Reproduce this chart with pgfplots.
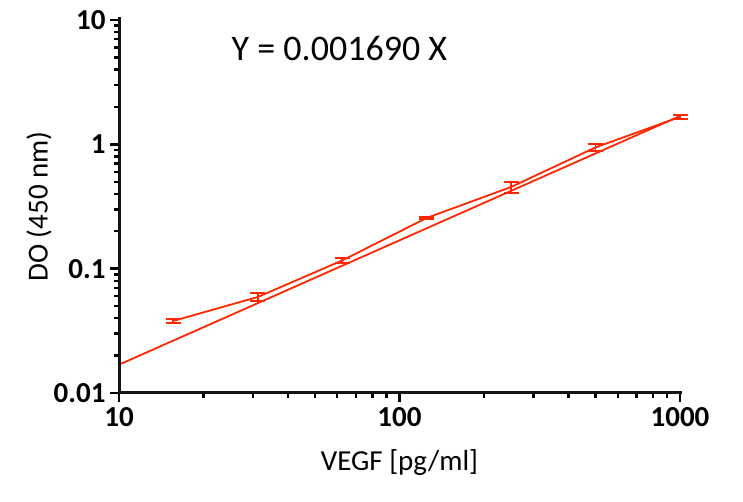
\documentclass[border=0pt]{standalone}
\usepackage{pgfplots}
\pgfplotsset{compat=1.18}
\usepackage{fontspec}
\setmainfont{Carlito}
\definecolor{curvered}{RGB}{255,38,0}
\definecolor{axisblack}{RGB}{20,20,20}
\pgfplotstableread{
x y err
15.625 0.0380 0.0014
31.25 0.0592 0.0045
62.5 0.1164 0.0055
125 0.2558 0.005
250 0.454 0.045
500 0.945 0.065
1000 1.661 0.06
}\meandata
\begin{document}
\begin{tikzpicture}
\begin{axis}[
  at={(0,0)}, anchor=south west,
  scale only axis, width=561pt, height=373pt,
  xmode=log, ymode=log,
  xmin=10, xmax=1000, ymin=0.01, ymax=10,
  axis x line*=bottom, axis y line*=left,
  x axis line style={axisblack, line width=2.8pt},
  y axis line style={axisblack, line width=2.8pt},
  xtick={10,100,1000}, xticklabels={10,100,1000},
  ytick={0.01,0.1,1,10}, yticklabels={0.01,0.1,1,10},
  minor xtick={20,30,40,50,60,70,80,90,200,300,400,500,600,700,800,900},
  minor ytick={0.02,0.03,0.04,0.05,0.06,0.07,0.08,0.09,0.2,0.3,0.4,0.5,0.6,0.7,0.8,0.9,2,3,4,5,6,7,8,9},
  tick align=outside,
  major tick length=9pt, minor tick length=5.5pt,
  tick style={black, line width=2.4pt},
  minor tick style={black, line width=2.4pt},
  tick label style={font=\fontsize{29}{34}\selectfont\bfseries},
  xticklabel style={yshift=-2pt},
  yticklabel style={xshift=-1pt},
  xlabel={VEGF [pg/ml]},
  ylabel={DO (450 nm)},
  label style={font=\fontsize{29}{34}\selectfont},
  xlabel style={at={(axis description cs:0.5,0)}, anchor=base, yshift=-77pt},
  ylabel style={at={(axis description cs:0,0.5)}, anchor=center, rotate=0, yshift=80pt},
  clip=false,
]
\addplot[curvered, line width=1.8pt, no marks,
  error bars/.cd, y dir=both, y explicit,
  error bar style={line width=1.8pt},
  error mark options={rotate=90, mark size=7.5pt, line width=1.8pt}]
  table[x=x, y=y, y error=err] {\meandata};
\addplot[curvered, line width=1.8pt, no marks] coordinates {(10,0.0169) (1000,1.69)};
\node[anchor=base west, font=\fontsize{36}{42}\selectfont] at (axis cs:24.5,4.7) {Y = 0.001690 X};
\end{axis}
\draw[axisblack, line width=3pt, line cap=rect, line join=miter] (0pt,374pt) -- (0pt,0pt) -- (561.5pt,0pt);
\pgfresetboundingbox
\path (-119pt,-109pt) rectangle (624pt,393pt);
\end{tikzpicture}
\end{document}
